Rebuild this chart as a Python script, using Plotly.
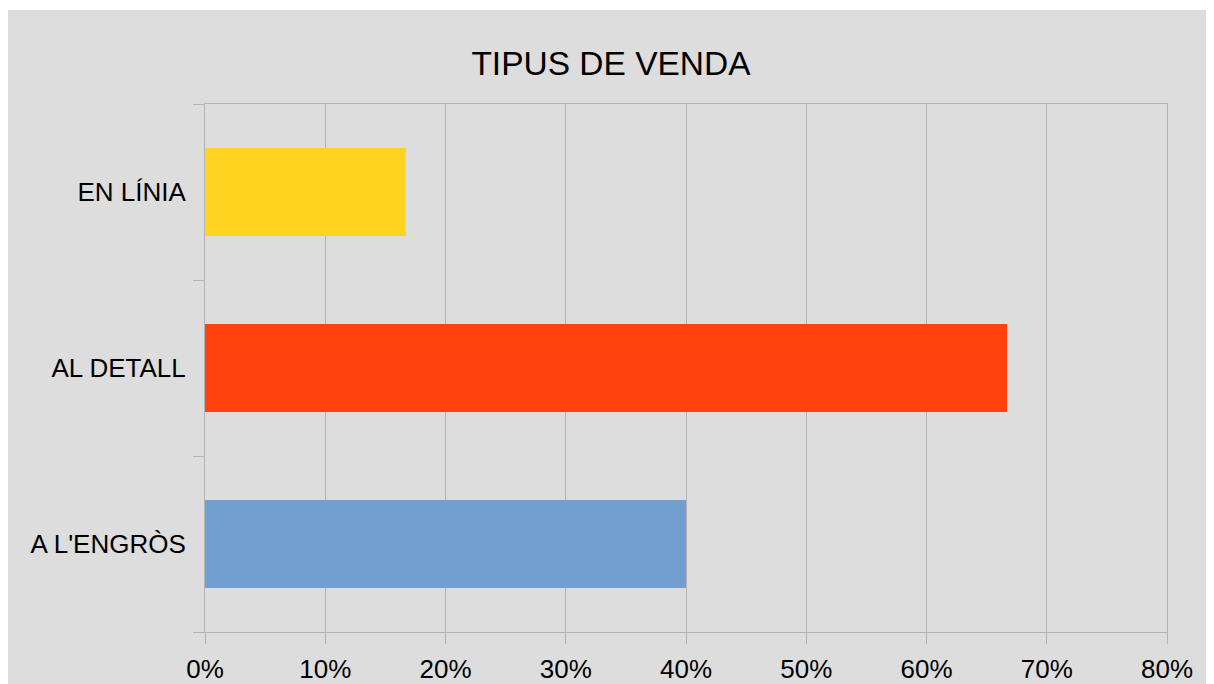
import plotly.graph_objects as go

categories = ["A L'ENGRÒS", "AL DETALL", "EN LÍNIA"]
values = [0.40, 0.667, 0.167]
colors = ["#729fcf", "#ff420e", "#ffd320"]
x_ticks = [0, 0.1, 0.2, 0.3, 0.4, 0.5, 0.6, 0.7, 0.8]
title_text = "TIPUS DE VENDA"

W, H = 1214, 684
# figure is placed at (8, 8) by the page margin
L, R, T, B = 197, 1159, 96, 624
pw, ph = R - L, B - T

fig = go.Figure(go.Bar(
    y=categories, x=values, orientation="h",
    marker=dict(color=colors, line=dict(width=0)),
    width=0.5, hoverinfo="skip",
))

grid = "#b3b3b3"
font = "Liberation Sans, Arial, sans-serif"

def px2x(px):
    return (px - L) / pw

def py2y(py):
    return (B - py) / ph

fig.update_layout(
    width=W, height=H,
    margin=dict(l=L, r=W - R, t=T, b=H - B, pad=0, autoexpand=False),
    paper_bgcolor="#dddddd", plot_bgcolor="#dddddd",
    title=dict(text=title_text, x=603 / W, xanchor="center", y=1 - 55 / H, yanchor="middle",
               font=dict(family=font, size=33.5, color="#000000")),
    font=dict(family=font, color="#000000"),
    showlegend=False,
    bargap=0.5,
    xaxis=dict(range=[0, 0.8], tickvals=x_ticks, tickformat=".0%",
               showgrid=True, gridcolor=grid, gridwidth=1,
               showline=True, linecolor=grid, linewidth=1, mirror=True,
               ticks="outside", ticklen=11, tickcolor=grid, tickwidth=1,
               ticklabelstandoff=3, automargin=False,
               tickfont=dict(family=font, size=26, color="#000000"),
               zeroline=False, fixedrange=True),
    yaxis=dict(type="category", categoryorder="array", categoryarray=categories,
               showgrid=False, showline=True, linecolor=grid, linewidth=1, mirror=True,
               ticks="outside", ticklen=11, tickcolor=grid, tickwidth=1, tickson="boundaries",
               ticklabelstandoff=13, automargin=False,
               tickfont=dict(family=font, size=26, color="#000000"),
               zeroline=False, fixedrange=True),
    shapes=[
        dict(type="rect", xref="paper", yref="paper", layer="below",
             x0=px2x(-2), x1=px2x(W + 2), y0=py2y(2), y1=py2y(-2),
             fillcolor="#ffffff", line=dict(width=0)),
    ],
)

fig.write_html("out.html")
